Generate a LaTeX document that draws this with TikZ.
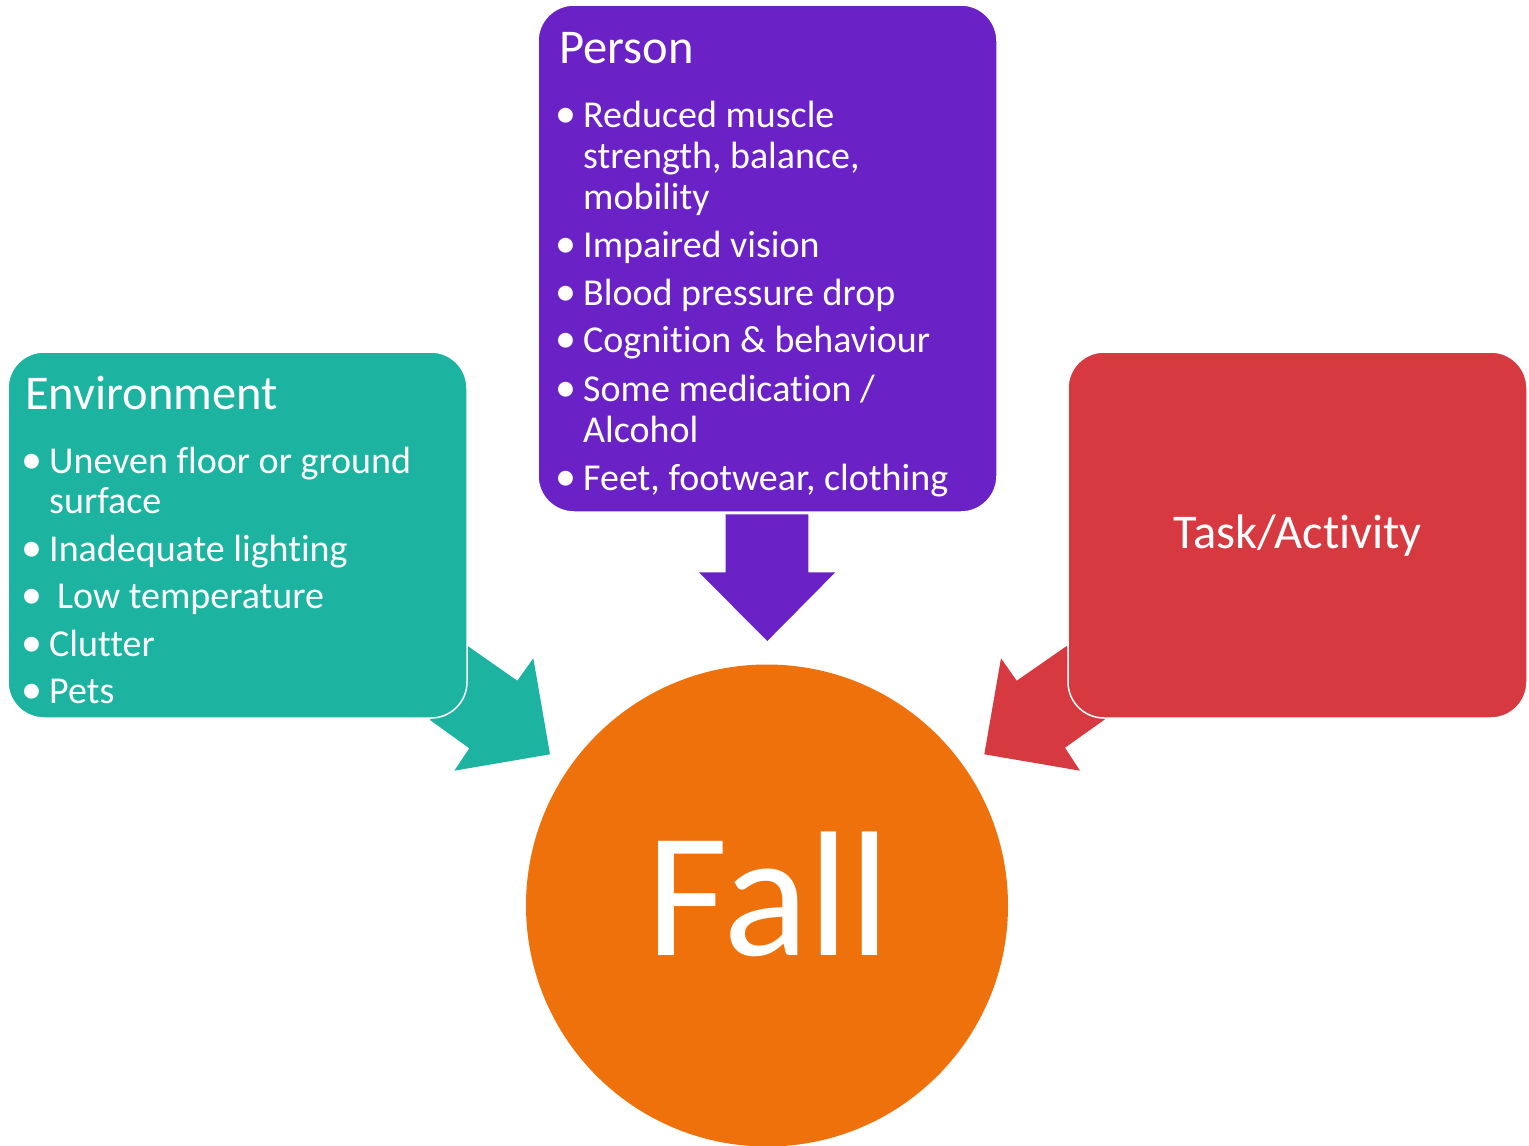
\documentclass[tikz,border=0pt]{standalone}
\usepackage{fontspec}
\setmainfont[RawFeature={-liga;-clig;-dlig;-calt}]{Carlito}
\definecolor{envc}{RGB}{28,179,160}
\definecolor{perc}{RGB}{106,34,199}
\definecolor{taskc}{RGB}{214,58,64}
\definecolor{fallc}{RGB}{238,113,11}
\begin{document}
\begin{tikzpicture}[x=1pt,y=-1pt,
  box/.style={rectangle, rounded corners=36pt, draw=white, line width=1.5pt, inner sep=0pt},
  titletxt/.style={anchor=base west, inner sep=0pt, text=white, font=\fontsize{48.5}{50}\selectfont},
  itemtxt/.style={anchor=base west, inner sep=0pt, text=white, font=\fontsize{38}{40}\selectfont},
  bul/.style={anchor=base, inner sep=0pt, text=white, font=\fontsize{42}{40}\selectfont}]
\useasboundingbox (0,0) rectangle (1529,1146);

% block arrows (behind the boxes)
\fill[envc] (467.7,646) -- (517.3,680.7) -- (533.3,658.3) -- (550,754.3) -- (454.3,770.7) -- (469.3,748.3) -- (430,720) -- cycle;
\fill[taskc] (1066.7,646) -- (1016.7,680.7) -- (1001,658.3) -- (984.3,754.3) -- (1080,770.7) -- (1065,747.7) -- (1105,719.3) -- cycle;
\fill[perc] (725.7,514.3) -- (808.3,514.3) -- (808.3,572.3) -- (835.3,572.3) -- (767.3,641) -- (699,572.3) -- (725.7,572.3) -- cycle;

% boxes
\node[box, fill=envc, minimum width=459pt, minimum height=366pt] (env) at (237.5,535) {};
\node[box, fill=perc, minimum width=459pt, minimum height=507pt] (per) at (767.5,258.5) {};
\node[box, fill=taskc, minimum width=459pt, minimum height=366pt] (task) at (1297.5,535) {};
\node[circle, fill=fallc, minimum size=482pt, inner sep=0pt] (fall) at (767,905.5) {};

% Environment text
\node[titletxt] (envT) at (25,409) {Environment};
\node[bul] (eb1) at (32,473) {\textbullet};
\node[itemtxt] (e1a) at (49,473) {Uneven floor or ground};
\node[itemtxt] (e1b) at (49,513) {surface};
\node[bul] (eb2) at (32,561) {\textbullet};
\node[itemtxt] (e2) at (49,561) {Inadequate lighting};
\node[bul] (eb3) at (32,608.5) {\textbullet};
\node[itemtxt] (e3) at (57,608.5) {Low temperature};
\node[bul] (eb4) at (32,656.5) {\textbullet};
\node[itemtxt] (e4) at (49,656.5) {Clutter};
\node[bul] (eb5) at (32,703) {\textbullet};
\node[itemtxt] (e5) at (49,703) {Pets};

% Person text
\node[titletxt] (perT) at (559,63.3) {Person};
\node[bul] (pb1) at (566,127.7) {\textbullet};
\node[itemtxt] (p1a) at (583,127.7) {Reduced muscle};
\node[itemtxt] (p1b) at (583,168) {strength, balance,};
\node[itemtxt] (p1c) at (583,209) {mobility};
\node[bul] (pb2) at (566,257.7) {\textbullet};
\node[itemtxt] (p2) at (583,257.7) {Impaired vision};
\node[bul] (pb3) at (566,305) {\textbullet};
\node[itemtxt] (p3) at (583,305) {Blood pressure drop};
\node[bul] (pb4) at (566,352.7) {\textbullet};
\node[itemtxt] (p4) at (583,352.7) {Cognition \& behaviour};
\node[bul] (pb5) at (566,401) {\textbullet};
\node[itemtxt] (p5a) at (583,401) {Some medication /};
\node[itemtxt] (p5b) at (583,442.3) {Alcohol};
\node[bul] (pb6) at (566,490) {\textbullet};
\node[itemtxt] (p6) at (583,490) {Feet, footwear, clothing};

% Task text
\node[anchor=base, inner sep=0pt, text=white, font=\fontsize{48.5}{50}\selectfont] (taskT) at (1297.5,548) {Task/Activity};

% Fall text
\node[anchor=base, inner sep=0pt, text=white, font=\fontsize{178}{180}\selectfont] (fallT) at (768,955) {Fall};
\end{tikzpicture}
\end{document}
